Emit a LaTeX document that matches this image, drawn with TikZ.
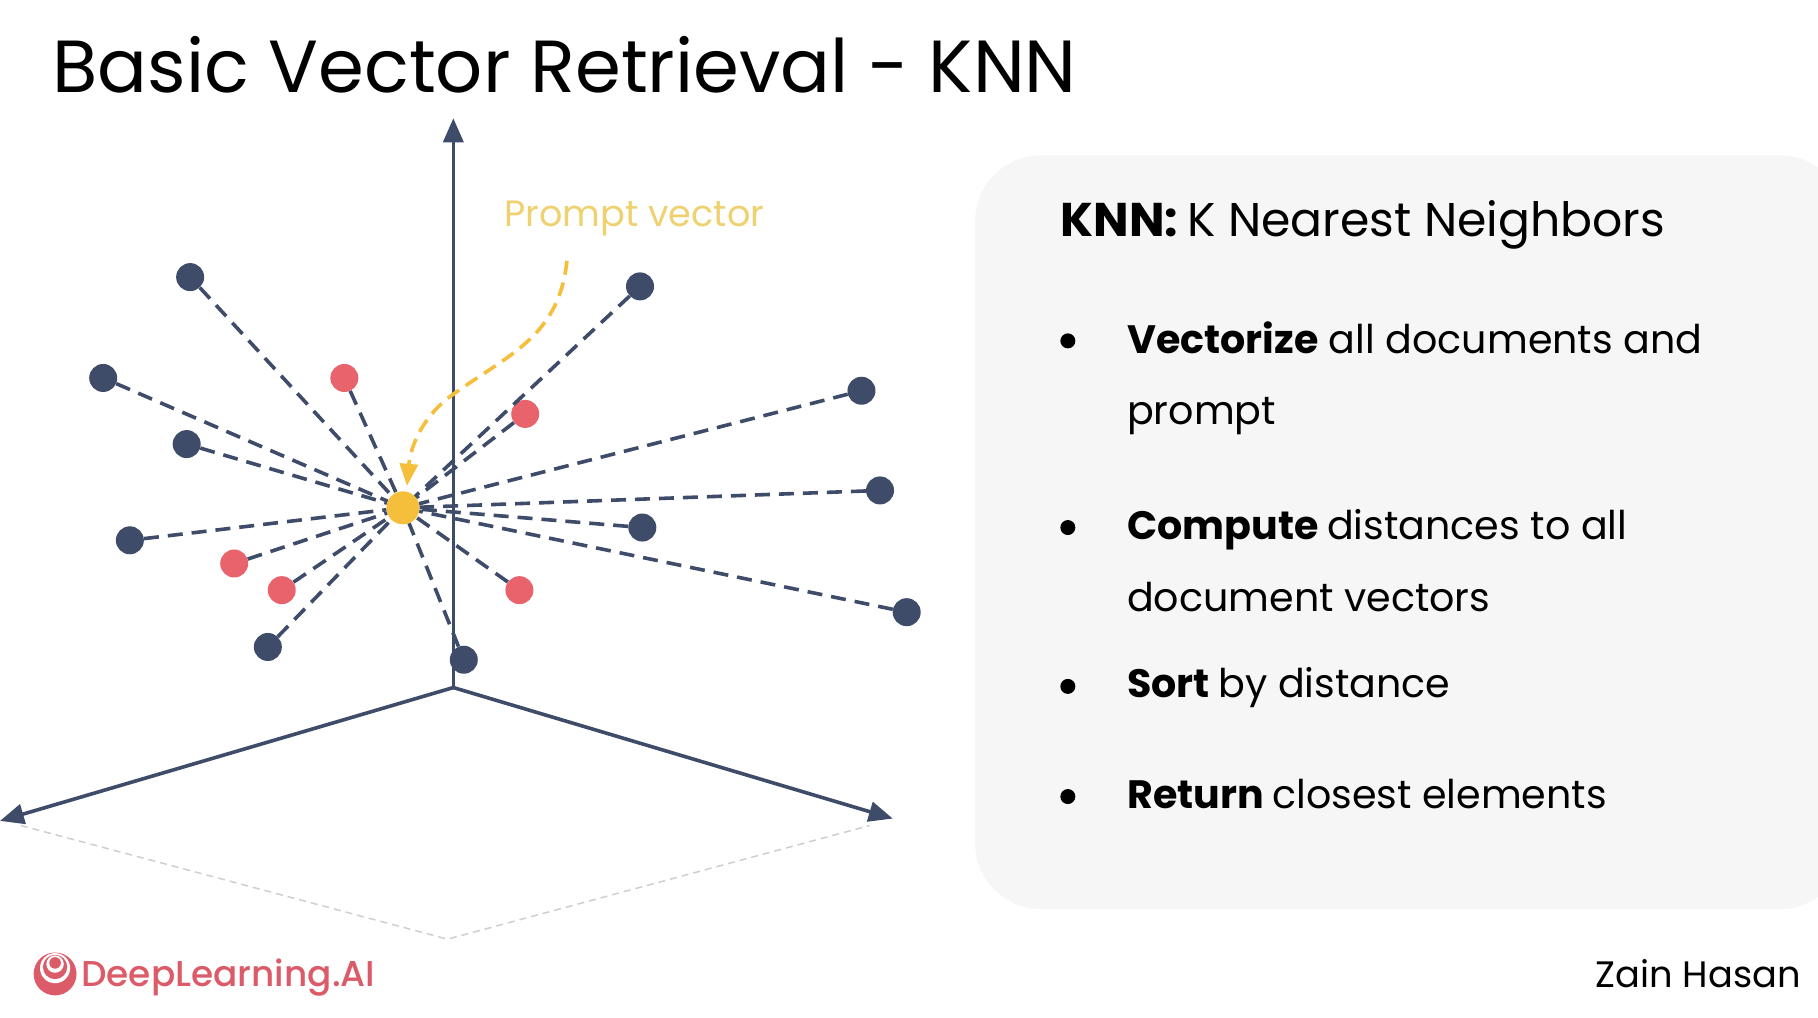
\documentclass[tikz,border=0pt]{standalone}
\usepackage{fontspec}
\setmainfont{Poppins}
\newfontfamily\pmed{Poppins Medium}
\usetikzlibrary{arrows.meta}
\definecolor{navy}{HTML}{3F4C69}
\definecolor{dotred}{HTML}{E8636B}
\definecolor{dotyellow}{HTML}{F5BF3C}
\definecolor{labelyellow}{HTML}{EFD170}
\definecolor{panelgray}{HTML}{F6F6F6}
\definecolor{logored}{HTML}{DC5B69}
\definecolor{guide}{HTML}{CFCFCF}
\newcommand{\fs}[1]{\fontsize{#1}{#1}\selectfont}
\tikzset{
  doc/.style={circle,fill=navy,draw=none,minimum size=28pt,inner sep=0pt},
  near/.style={circle,fill=dotred,draw=none,minimum size=28pt,inner sep=0pt},
  prompt/.style={circle,fill=dotyellow,draw=none,minimum size=33pt,inner sep=0pt},
  axis/.style={draw=navy,line width=3.6pt,-{Triangle[length=24pt,width=20pt]}},
  link/.style={draw=navy,line width=3.6pt,dash pattern=on 15pt off 9pt},
  guideline/.style={draw=guide,line width=1.5pt,dash pattern=on 7pt off 5pt},
  bulletdot/.style={circle,fill=black,draw=none,minimum size=15pt,inner sep=0pt},
  body/.style={anchor=base west,inner sep=0pt,font=\fs{39.6}},
}
\begin{document}
\begin{tikzpicture}[x=1.15944pt,y=-1.15944pt]
\useasboundingbox (0,0) rectangle (1568,878);
\fill[white] (0,0) rectangle (1568,878);
\begin{scope}
\clip (0,0) rectangle (1568,878);
\fill[panelgray,rounded corners=66pt] (841,134) rectangle (1592,784);
\end{scope}
% title
\node[anchor=base west,inner sep=0pt,font=\fs{73.8}] (title) at (45,80) {Basic Vector Retrieval - KNN};
% axes
\coordinate (o) at (391,593);
\coordinate (ztop) at (391,102);
\coordinate (xleft) at (0,708);
\coordinate (xright) at (770,706);
\coordinate (g1) at (18,712);
\coordinate (g2) at (386,810);
\coordinate (g3) at (750,712);
\draw[guideline] (g1) -- (g2) -- (g3);
\draw[axis] (o) -- (ztop);
\draw[axis] (o) -- (xleft);
\draw[axis] (o) -- (xright);
% points
\node[prompt] (p) at (347.5,438) {};
\node[doc] (d1) at (164,239) {};
\node[doc] (d2) at (552,247) {};
\node[doc] (d3) at (89,326) {};
\node[doc] (d4) at (743,337) {};
\node[doc] (d5) at (161,383) {};
\node[doc] (d6) at (759,423) {};
\node[doc] (d7) at (112,466) {};
\node[doc] (d8) at (554,455) {};
\node[doc] (d9) at (782,528) {};
\node[doc] (d10) at (231,558) {};
\node[doc] (d11) at (400,569) {};
\node[near] (r1) at (297,326) {};
\node[near] (r2) at (453,357) {};
\node[near] (r3) at (202,486) {};
\node[near] (r4) at (243,509) {};
\node[near] (r5) at (448,509) {};
\foreach \n in {d1,d2,d3,d4,d5,d6,d7,d8,d9,d10,d11,r1,r2,r3,r4,r5}
  \draw[link] (\n) -- (p);
% prompt pointer
\node[anchor=base west,inner sep=0pt,font=\fs{36.6},text=labelyellow] (plabel) at (435,195) {Prompt vector};
\coordinate (pstart) at (489,225);
\coordinate (pmid) at (391,340);
\coordinate (ptip) at (351,419);
\draw[draw=dotyellow,line width=3.6pt,dash pattern=on 14pt off 8pt,-{Triangle[length=22pt,width=18pt]}]
  (pstart) .. controls (482,290) and (440,305) .. (pmid) .. controls (365,358) and (354,385) .. (ptip);
% panel text
\node[anchor=base west,inner sep=0pt,font=\fs{47.3}] (head) at (914.5,204) {\textbf{KNN:}\hspace{-3.5pt} K Nearest Neighbors};
\node[bulletdot] (b1) at (921,294) {};
\node[bulletdot] (b2) at (921,455) {};
\node[bulletdot] (b3) at (921,592) {};
\node[bulletdot] (b4) at (921,687) {};
\node[body] (t1a) at (972,304.5) {\textbf{Vectorize} all documents and};
\node[body] (t1b) at (972,366) {prompt};
\node[body] (t2a) at (972,465) {\textbf{Compute}\hspace{-2pt} distances to all};
\node[body] (t2b) at (972,527) {document vectors};
\node[body] (t3) at (972,602) {\textbf{Sort}\hspace{-2pt} by distance};
\node[body] (t4) at (972,697) {\textbf{Return}\hspace{-2pt} closest elements};
% logo
\fill[logored] (47.5,840) circle (18.5);
\fill[white] (47.5,835) circle (13);
\fill[logored] (47.5,834) circle (10.5);
\fill[white] (47.5,831.5) circle (7.5);
\fill[logored] (47.5,830.5) circle (5);
\node[anchor=base west,inner sep=0pt,font=\fs{35.9}\pmed,text=logored] (logo) at (70,851) {DeepLearning.AI};
\node[anchor=base west,inner sep=0pt,font=\fs{36.8}] (author) at (1376,852) {Zain Hasan};
\end{tikzpicture}
\end{document}
